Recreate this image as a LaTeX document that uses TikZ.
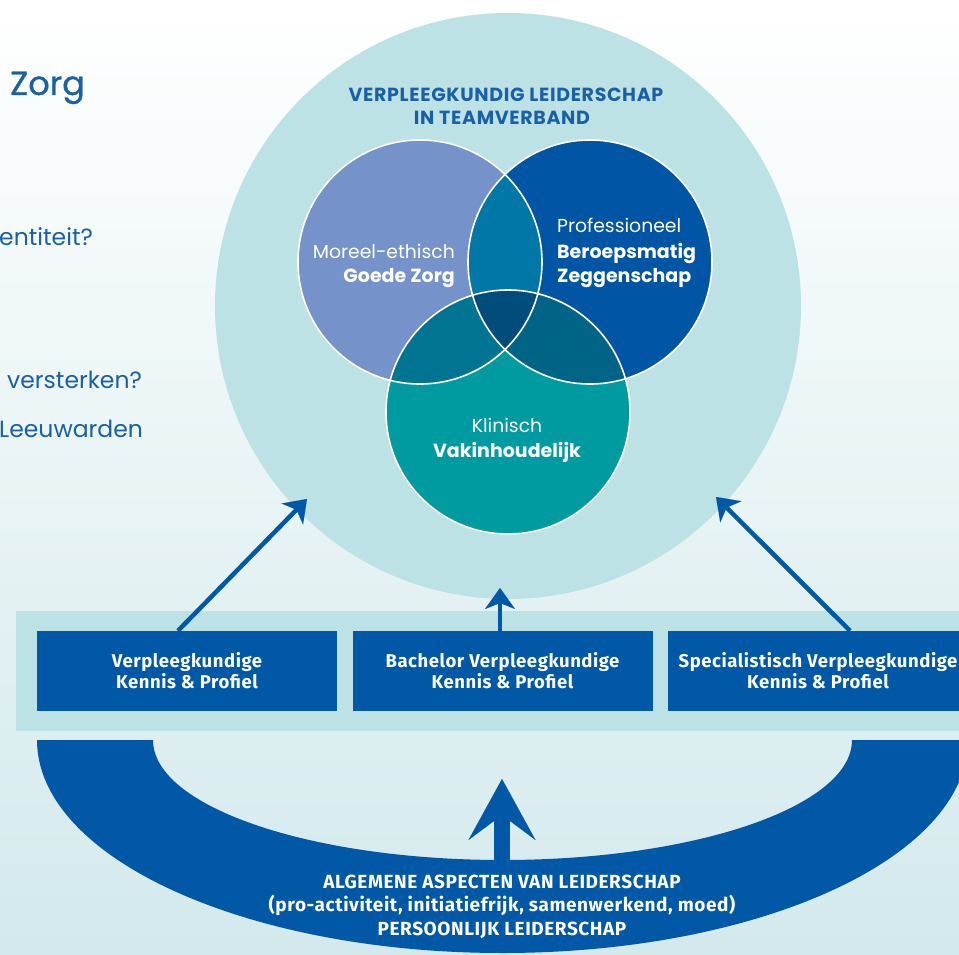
\documentclass[tikz,border=0pt]{standalone}
\usepackage{fontspec}
\setmainfont{Poppins}
\newfontfamily\condfont{Fira Sans}[LetterSpace=3]
\newfontfamily\titlefont{Poppins}[LetterSpace=3.5]
\newfontfamily\zorgfont{Poppins}[FakeBold=0.8]
\usetikzlibrary{arrows.meta}
\definecolor{bgmid}{HTML}{F4F9FA}
\definecolor{bgbot}{HTML}{D3E9EC}
\definecolor{teamcol}{HTML}{BCE2E5}
\definecolor{darkblue}{HTML}{0058A6}
\definecolor{titleblue}{HTML}{1A60A6}
\definecolor{moreel}{HTML}{7592CA}
\definecolor{prof}{HTML}{0055A5}
\definecolor{klin}{HTML}{009BA1}
\definecolor{mpcol}{HTML}{0077A6}
\definecolor{mkcol}{HTML}{007593}
\definecolor{pkcol}{HTML}{006487}
\definecolor{allcol}{HTML}{004C7B}
\begin{document}
\begin{tikzpicture}[x=1pt,y=-1pt,
  every node/.style={inner sep=0pt},
  kennis/.style={rectangle, fill=darkblue, minimum width=300pt, minimum height=80pt,
    text=white, align=center, font=\condfont\bfseries\fontsize{18.5}{21}\selectfont},
  venntxt/.style={text=white, font=\fontsize{18.8}{24}\selectfont},
  vennbold/.style={venntxt, font=\bfseries\fontsize{19}{24}\selectfont},
  lefttxt/.style={anchor=base west, text=titleblue, font=\fontsize{23.5}{28}\selectfont},
  titeltxt/.style={anchor=base, text=titleblue, font=\titlefont\bfseries\fontsize{19}{22}\selectfont},
  basetxt/.style={anchor=base, text=white, font=\condfont\bfseries\fontsize{19}{23}\selectfont},
  uparrow/.style={draw=darkblue, line width=4.5pt,
    -{Stealth[length=21pt,width=30pt,inset=6pt,line width=0.01pt]}}]
\useasboundingbox (0,0) rectangle (959,955);
\clip (0,0) rectangle (959,955);
\shade[top color=white, middle color=bgmid, bottom color=bgbot] (0,0) rectangle (959,955);
% text at the left, cut off by the border
\node[lefttxt, font=\zorgfont\fontsize{33.5}{38}\selectfont] (zorg) at (10,95) {Zorg};
\node[lefttxt] (vraag1) at (-1,245) {entiteit?};
\node[lefttxt] (vraag2) at (7,388) {versterken?};
\node[lefttxt] (plaats) at (-1,437) {Leeuwarden};
% team circle
\node[circle, fill=teamcol, minimum size=586pt] (team) at (508,306) {};
\node[titeltxt] (titel1) at (506,102) {VERPLEEGKUNDIG LEIDERSCHAP};
\node[titeltxt] (titel2) at (502,125) {IN TEAMVERBAND};
% venn
\coordinate (cM) at (420,262);
\coordinate (cP) at (590,262);
\coordinate (cK) at (508,412);
\fill[moreel] (cM) circle (122pt);
\fill[prof] (cP) circle (122pt);
\fill[klin] (cK) circle (122pt);
\begin{scope}
  \clip (cM) circle (122pt);
  \fill[mpcol] (cP) circle (122pt);
  \fill[mkcol] (cK) circle (122pt);
  \clip (cP) circle (122pt);
  \fill[allcol] (cK) circle (122pt);
\end{scope}
\begin{scope}
  \clip (cP) circle (122pt);
  \clip (cK) circle (122pt);
  \fill[pkcol, even odd rule] (cM) circle (122pt) (0,0) rectangle (959,955);
\end{scope}
\draw[white, line width=1.6pt] (cM) circle (122pt) (cP) circle (122pt) (cK) circle (122pt);
\node[venntxt, anchor=base east] (moreel1) at (455,258) {Moreel-ethisch};
\node[vennbold, anchor=base east] (moreel2) at (455,282) {Goede Zorg};
\node[venntxt, anchor=base west] (prof1) at (557,232) {Professioneel};
\node[vennbold, anchor=base west] (prof2) at (557,258) {Beroepsmatig};
\node[vennbold, anchor=base west] (prof3) at (557,282) {Zeggenschap};
\node[venntxt, anchor=base] (klin1) at (507,432) {Klinisch};
\node[vennbold, anchor=base] (klin2) at (507,457) {Vakinhoudelijk};
% kennis band
\node[fill=teamcol, minimum width=973pt, minimum height=120pt] (band) at (502.5,671) {};
\node[kennis] (box1) at (187,671) {Verpleegkundige\\Kennis \& Profiel};
\node[kennis] (box2) at (502.5,671) {Bachelor Verpleegkundige\\Kennis \& Profiel};
\node[kennis] (box3) at (818,671) {Specialistisch Verpleegkundige\\Kennis \& Profiel};
\coordinate (tipL) at (307,499);
\coordinate (tipM) at (500,588);
\coordinate (tipR) at (716,497);
\draw[uparrow] ([xshift=-9pt]box1.north) -- (tipL);
\draw[uparrow] ([xshift=-2.5pt]box2.north) -- (tipM);
\draw[uparrow] ([xshift=32pt]box3.north) -- (tipR);
% persoonlijk leiderschap
\fill[darkblue] (37,740) arc[start angle=180, end angle=360, x radius=465.5pt, y radius=213pt]
  -- (852,740) arc[start angle=360, end angle=180, x radius=349.5pt, y radius=120pt] -- cycle;
\coordinate (arcin) at (502,862);
\coordinate (tipB) at (502,779);
\draw[darkblue, line width=16pt, -{Stealth[length=61pt,width=67pt,inset=25pt,line width=0.01pt]}] (arcin) -- (tipB);
\node[basetxt] (alg1) at (502,888) {ALGEMENE ASPECTEN VAN LEIDERSCHAP};
\node[basetxt] (alg2) at (502,911) {(pro-activiteit, initiatiefrijk, samenwerkend, moed)};
\node[basetxt] (alg3) at (502,935) {PERSOONLIJK LEIDERSCHAP};
\end{tikzpicture}
\end{document}
